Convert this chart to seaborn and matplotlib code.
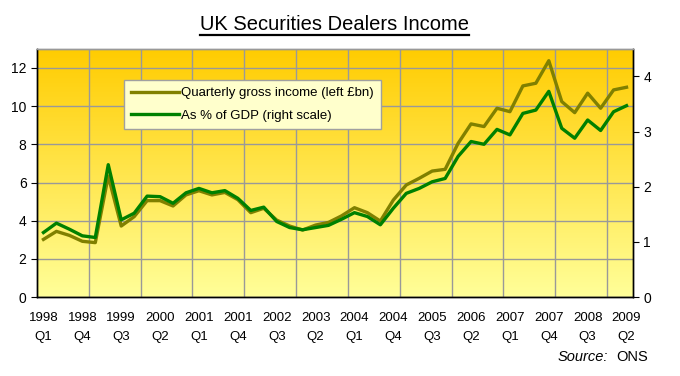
import numpy as np
import pandas as pd
import matplotlib
matplotlib.use("Agg")
import matplotlib.pyplot as plt
from matplotlib.lines import Line2D
import seaborn as sns

# data, quarterly 1998 Q1 .. 2009 Q2
income_bn = [3.02, 3.44, 3.23, 2.92, 2.85, 6.34, 3.72, 4.21, 5.05, 5.05,
             4.77, 5.35, 5.57, 5.35, 5.48, 5.10, 4.42, 4.65, 4.03, 3.72,
             3.51, 3.77, 3.91, 4.25, 4.68, 4.42, 3.98, 5.08, 5.87, 6.22,
             6.60, 6.69, 8.05, 9.07, 8.93, 9.89, 9.71, 11.06, 11.20, 12.38,
             10.24, 9.66, 10.68, 9.89, 10.85, 10.99]
pct_gdp = [1.17, 1.34, 1.23, 1.11, 1.08, 2.40, 1.40, 1.52, 1.83, 1.82,
           1.70, 1.89, 1.97, 1.89, 1.93, 1.79, 1.57, 1.63, 1.37, 1.26,
           1.22, 1.26, 1.30, 1.41, 1.53, 1.46, 1.31, 1.61, 1.88, 1.97,
           2.09, 2.15, 2.55, 2.82, 2.77, 3.04, 2.94, 3.33, 3.39, 3.73,
           3.06, 2.88, 3.21, 3.02, 3.36, 3.47]
tick_labels = ["1998\nQ1", "1998\nQ4", "1999\nQ3", "2000\nQ2", "2001\nQ1",
               "2001\nQ4", "2002\nQ3", "2003\nQ2", "2004\nQ1", "2004\nQ4",
               "2005\nQ3", "2006\nQ2", "2007\nQ1", "2007\nQ4", "2008\nQ3",
               "2009\nQ2"]
income_label = "Quarterly gross income (left £bn)"
pct_label = "As % of GDP (right scale)"

df = pd.DataFrame({"q": np.arange(len(income_bn)), "income": income_bn, "pct": pct_gdp})

plt.rcParams["font.family"] = ["Liberation Sans", "DejaVu Sans"]

fig = plt.figure(figsize=(6.8, 3.76), dpi=100)
ax = fig.add_axes([0.0544, 0.21, 0.8765, 0.66])

# gradient plot background
grad = np.linspace(0, 1, 256).reshape(-1, 1)
top = np.array([255, 204, 0]) / 255
bot = np.array([255, 255, 153]) / 255
img = top[None, None, :] * (1 - grad[:, :, None]) + bot[None, None, :] * grad[:, :, None]
ax.imshow(img, extent=[0, 1, 0, 1], transform=ax.transAxes, aspect="auto", zorder=0)

sns.lineplot(data=df, x="q", y="income", ax=ax, color="#808000", lw=2.4,
             label=income_label, legend=False, zorder=3)

ax2 = ax.twinx()
sns.lineplot(data=df, x="q", y="pct", ax=ax2, color="#008000", lw=2.4,
             label=pct_label, legend=False, zorder=3)

n = len(income_bn)
ax.set_xlim(-0.5, n - 0.5)
ax.set_ylim(0, 13)
ax2.set_ylim(0, 4.5)
ax.set_yticks(range(0, 13, 2))
ax2.set_yticks(range(0, 5))
ax.set_xticks(np.arange(0, n, 3))
ax.set_xticklabels(tick_labels, linespacing=1.75)
ax.set_xticks(np.arange(3.5, n - 1, 4), minor=True)
ax.set_xlabel("")
ax.set_ylabel("")
ax2.set_ylabel("")

ax.set_axisbelow(True)
ax.grid(axis="y", which="major", color="#999999", lw=1)
ax.grid(axis="x", which="minor", color="#999999", lw=1)
ax.tick_params(axis="x", which="both", length=0, labelsize=9.5, pad=11)
ax.tick_params(axis="y", length=4, labelsize=10, color="black")
ax2.tick_params(axis="y", length=4, labelsize=10, color="black")

for a in (ax, ax2):
    for s in a.spines.values():
        s.set_color("black")
        s.set_linewidth(1)
    a.spines["top"].set_color("#999999")

handles = [Line2D([], [], color="#808000", lw=2.4),
           Line2D([], [], color="#008000", lw=2.4)]
leg = ax2.legend(handles, [income_label, pct_label], loc="upper left",
                 bbox_to_anchor=(0.146, 0.875), borderaxespad=0, fontsize=9.5,
                 frameon=True, fancybox=False, framealpha=1, handlelength=3.6,
                 borderpad=0.55, labelspacing=0.75, handletextpad=0.2)
leg.get_frame().set_facecolor("#FFFFCC")
leg.get_frame().set_edgecolor("#A0A0A0")

title = fig.text(0.492, 0.935, "UK Securities Dealers Income", ha="center",
                 va="center", fontsize=14.5)
fig.canvas.draw()
bb = title.get_window_extent().transformed(fig.transFigure.inverted())
fig.add_artist(Line2D([bb.x0, bb.x1], [bb.y0 - 0.004, bb.y0 - 0.004],
                      color="black", lw=1.6, transform=fig.transFigure))

fig.text(0.894, 0.05, "Source:", ha="right", va="center", fontsize=10.5,
         style="italic")
fig.text(0.906, 0.05, "ONS", ha="left", va="center", fontsize=10.5)

fig.savefig("out.png", dpi=100)
